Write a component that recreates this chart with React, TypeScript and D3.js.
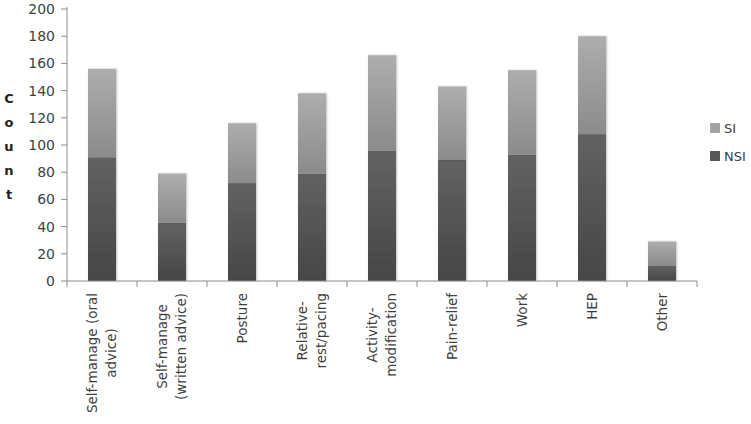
import React, { useEffect, useRef } from 'react'
import * as d3 from 'd3'

const categories = [
  'Self-manage (oral advice)',
  'Self-manage (written advice)',
  'Posture',
  'Relative-rest/pacing',
  'Activity-modification',
  'Pain-relief',
  'Work',
  'HEP',
  'Other',
]
const labelLines = [
  ['Self-manage (oral', 'advice)'],
  ['Self-manage', '(written advice)'],
  ['Posture'],
  ['Relative-', 'rest/pacing'],
  ['Activity-', 'modification'],
  ['Pain-relief'],
  ['Work'],
  ['HEP'],
  ['Other'],
]
const nsiValues = [91, 43, 72, 79, 96, 89, 93, 108, 11]
const siValues = [65, 36, 44, 59, 70, 54, 62, 72, 18]
const seriesNames = ['NSI', 'SI']
const yTicks = [0, 20, 40, 60, 80, 100, 120, 140, 160, 180, 200]
const yTitle = 'Count'

const W = 751
const H = 424
const left = 67
const right = 697
const top = 9
const bottom = 281
const font = '"DejaVu Sans", sans-serif'
const textColor = '#3f3f3f'
const axisColor = '#8c8c8c'

const App = () => {
  const ref = useRef<SVGSVGElement>(null)

  useEffect(() => {
    const svg = d3.select(ref.current)
    svg.selectAll('*').remove()

    const x = d3.scaleBand().domain(categories).range([left, right]).paddingInner(0.6).paddingOuter(0.3)
    const y = d3.scaleLinear().domain([0, 200]).range([bottom, top])

    const defs = svg.append('defs')
    const grads = [
      { id: 'g-nsi', from: '#626262', to: '#464646' },
      { id: 'g-si', from: '#adadad', to: '#8b8b8b' },
    ]
    grads.forEach((g) => {
      const lg = defs.append('linearGradient').attr('id', g.id).attr('x1', 0).attr('y1', 0).attr('x2', 0).attr('y2', 1)
      lg.append('stop').attr('offset', '0%').attr('stop-color', g.from)
      lg.append('stop').attr('offset', '100%').attr('stop-color', g.to)
    })
    defs.append('filter').attr('id', 'shadow').attr('x', '-20%').attr('y', '-5%').attr('width', '140%').attr('height', '110%')
      .append('feDropShadow').attr('dx', 1).attr('dy', 0).attr('stdDeviation', 0.8)
      .attr('flood-color', '#000').attr('flood-opacity', 0.25)

    const table = categories.map((c, i) => ({ cat: c, NSI: nsiValues[i], SI: siValues[i] }))
    const stacked = d3.stack<any>().keys(seriesNames)(table)

    // bars
    const layers = svg.append('g').selectAll('g').data(stacked).join('g')
      .attr('fill', (d) => (d.key === 'NSI' ? 'url(#g-nsi)' : 'url(#g-si)'))
    layers.selectAll('rect').data((d) => d).join('rect')
      .attr('x', (d: any) => x(d.data.cat)!)
      .attr('width', x.bandwidth())
      .attr('y', (d) => y(d[1]))
      .attr('height', (d) => y(d[0]) - y(d[1]))
      .attr('filter', 'url(#shadow)')

    // y axis
    const ya = svg.append('g')
    ya.append('line').attr('x1', left).attr('x2', left).attr('y1', top - 2).attr('y2', bottom)
      .attr('stroke', axisColor)
    yTicks.forEach((t) => {
      ya.append('line').attr('x1', left - 6).attr('x2', left).attr('y1', y(t)).attr('y2', y(t)).attr('stroke', axisColor)
      ya.append('text').attr('x', 55).attr('y', y(t)).attr('dy', '0.36em').attr('text-anchor', 'end')
        .attr('font-family', font).attr('font-size', 14).attr('fill', textColor).text(t)
    })

    // y title, stacked letters
    yTitle.split('').forEach((ch, i) => {
      svg.append('text').attr('x', 9).attr('y', 98 + i * 24).attr('dy', '0.36em').attr('text-anchor', 'middle')
        .attr('font-family', font).attr('font-weight', 'bold').attr('font-size', 13).attr('fill', '#222').text(ch)
    })

    // x axis
    const xa = svg.append('g')
    xa.append('line').attr('x1', left).attr('x2', right).attr('y1', bottom).attr('y2', bottom).attr('stroke', axisColor)
    const step = x.step()
    d3.range(categories.length + 1).forEach((i) => {
      const px = left + i * step
      xa.append('line').attr('x1', px).attr('x2', px).attr('y1', bottom).attr('y2', bottom + 6).attr('stroke', axisColor)
    })

    const lineH = 19
    categories.forEach((c, i) => {
      const cx = x(c)! + x.bandwidth() / 2
      const lines = labelLines[i]
      const g = xa.append('g').attr('transform', `translate(${cx},293)`)
      const texts = lines.map((ln, j) =>
        g.append('text').attr('transform', 'rotate(-90)')
          .attr('y', (j - (lines.length - 1) / 2) * lineH).attr('dy', '0.36em')
          .attr('text-anchor', 'middle').attr('font-family', font).attr('font-size', 13.5)
          .attr('fill', textColor).text(ln))
      const maxLen = d3.max(texts, (t) => (t.node() as SVGTextElement).getComputedTextLength()) || 0
      texts.forEach((t) => t.attr('x', -maxLen / 2))
    })

    // legend
    const legendRows = [
      { name: 'SI', color: '#a3a3a3', y: 128 },
      { name: 'NSI', color: '#575757', y: 156 },
    ]
    legendRows.forEach((r) => {
      svg.append('rect').attr('x', 710).attr('y', r.y - 5).attr('width', 10).attr('height', 10).attr('fill', r.color)
      svg.append('text').attr('x', 724).attr('y', r.y).attr('dy', '0.36em').attr('font-family', font)
        .attr('font-size', 13).attr('fill', textColor).text(r.name)
    })
  }, [])

  return (
    <svg ref={ref} width={W} height={H} style={{ position: 'absolute', left: 0, top: 0, background: '#fff' }} />
  )
}

export default App
